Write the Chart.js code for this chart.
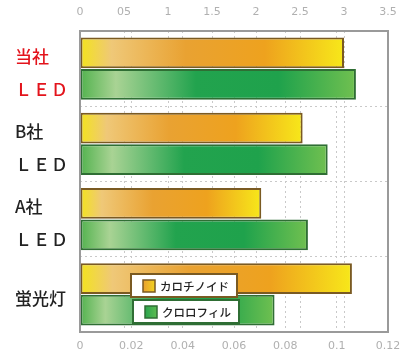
<!DOCTYPE html>
<html><head><meta charset="utf-8">
<script src="https://cdn.jsdelivr.net/npm/chart.js@4/dist/chart.umd.min.js"></script>
<style>html,body{margin:0;padding:0;background:#fff;overflow:hidden}#w{width:403px;height:358px;position:relative;overflow:hidden}</style>
</head><body><div id="w"><canvas id="c" width="403" height="358"></canvas></div>
<script>
const categories = [["当社","Ｌ\u200AＥ\u200AＤ"],["B社","Ｌ\u200AＥ\u200AＤ"],["A社","Ｌ\u200AＥ\u200AＤ"],["蛍光灯"]];
const seriesNames = ["カロチノイド","クロロフィル"];
const carotenoid = [3.0, 2.53, 2.06, 3.09];
const chlorophyll = [0.1075, 0.0965, 0.0888, 0.0758];
const topTicks = ["0","05","1","1.5","2","2.5","3","3.5"];
const bottomTicks = ["0","0.02","0.04","0.06","0.08","0.1","0.12"];

function grad(ctx, axis, stops){
  const chart = ctx.chart;
  if(!chart.chartArea || ctx.raw === undefined) return stops[0][1];
  const s = chart.scales[axis];
  const a = s.getPixelForValue(0), b = s.getPixelForValue(ctx.raw);
  const g = chart.ctx.createLinearGradient(a,0,b,0);
  stops.forEach(([p,c])=>g.addColorStop(p,c));
  return g;
}
const carStops=[[0,'#f3e31c'],[0.12,'#efc878'],[0.4,'#e9a232'],[0.7,'#eea21e'],[1,'#f7e81a']];
const chlStops=[[0,'#52b24e'],[0.13,'#a9d394'],[0.42,'#22a34e'],[0.72,'#1fa24c'],[1,'#70c050']];

const boxPlugin = {
  id:'box',
  afterDatasetsDraw(chart){
    const {ctx, chartArea:a} = chart;
    ctx.save();
    ctx.strokeStyle='#9a9a9a'; ctx.lineWidth=2;
    ctx.strokeRect(a.left, a.top, a.right-a.left, a.bottom-a.top);
    const items=[{y:274,border:'#7a5a22'},{y:300,border:'#2f6e34'}];
    items.forEach((it,i)=>{
      const x=131+i*2, w=106, h=23, y=it.y;
      ctx.fillStyle='#fff'; ctx.fillRect(x,y,w,h);
      ctx.strokeStyle=it.border; ctx.lineWidth=2; ctx.strokeRect(x,y,w,h);
      const g=ctx.createLinearGradient(x+12,0,x+24,0);
      if(i===0){g.addColorStop(0,'#e9a030');g.addColorStop(1,'#f3d21e');}
      else {g.addColorStop(0,'#2aa44e');g.addColorStop(1,'#5cbc50');}
      ctx.fillStyle=g; ctx.fillRect(x+12,y+6,12,12);
      ctx.strokeStyle=it.border; ctx.lineWidth=1.5; ctx.strokeRect(x+12,y+6,12,12);
      ctx.fillStyle='#222'; ctx.font='500 11.5px "Noto Sans CJK JP"'; ctx.textBaseline='middle'; ctx.textAlign='left';
      ctx.fillText(seriesNames[i], x+29, y+h/2+1);
    });
    ctx.restore();
  }
};
function noPad(s){s.paddingTop=0;s.paddingBottom=0;s.paddingLeft=0;s.paddingRight=0;}

new Chart(document.getElementById('c'),{
  type:'bar',
  data:{labels:categories,datasets:[
    {label:seriesNames[0],data:carotenoid,xAxisID:'x',
     backgroundColor:c=>grad(c,'x',carStops),borderColor:'#7a5a22',borderWidth:2,borderSkipped:false,
     barPercentage:0.97,categoryPercentage:0.84},
    {label:seriesNames[1],data:chlorophyll,xAxisID:'x2',
     backgroundColor:c=>grad(c,'x2',chlStops),borderColor:'#2f6e34',borderWidth:2,borderSkipped:false,
     barPercentage:0.97,categoryPercentage:0.84}
  ]},
  options:{
    indexAxis:'y',responsive:false,animation:false,
    layout:{padding:{left:15,right:15,top:0,bottom:0}},
    plugins:{legend:{display:false},tooltip:{enabled:false}},
    scales:{
      x:{position:'top',min:0,max:3.5,
        ticks:{stepSize:0.5,padding:12,color:'#b0b0b0',font:{size:11,family:'"DejaVu Sans"'},
          callback:(v,i)=>topTicks[i]},
        grid:{color:'#c9c9c9',lineWidth:1,drawTicks:false},
        border:{display:false,dash:[2,3]},
        afterFit:s=>{s.height=31;noPad(s);}},
      x2:{position:'bottom',min:0,max:0.12,
        ticks:{stepSize:0.02,padding:8,color:'#b0b0b0',font:{size:11,family:'"DejaVu Sans"'},
          callback:(v,i)=>bottomTicks[i]},
        grid:{color:'#c9c9c9',lineWidth:1,drawTicks:false},
        border:{display:false,dash:[2,3]},
        afterFit:s=>{s.height=26;noPad(s);}},
      y:{
        ticks:{crossAlign:'far',padding:8,labelOffset:4,
          color:c=>c.index===0?'#e3141c':'#222',
          font:{size:17,weight:'500',family:'"Noto Sans CJK JP"',lineHeight:1.94}},
        grid:{color:'#c9c9c9',drawTicks:false},
        border:{display:false,dash:[2,3]},
        afterFit:s=>{s.width=65;noPad(s);}
      }
    }
  },
  plugins:[boxPlugin]
});
</script></body></html>
